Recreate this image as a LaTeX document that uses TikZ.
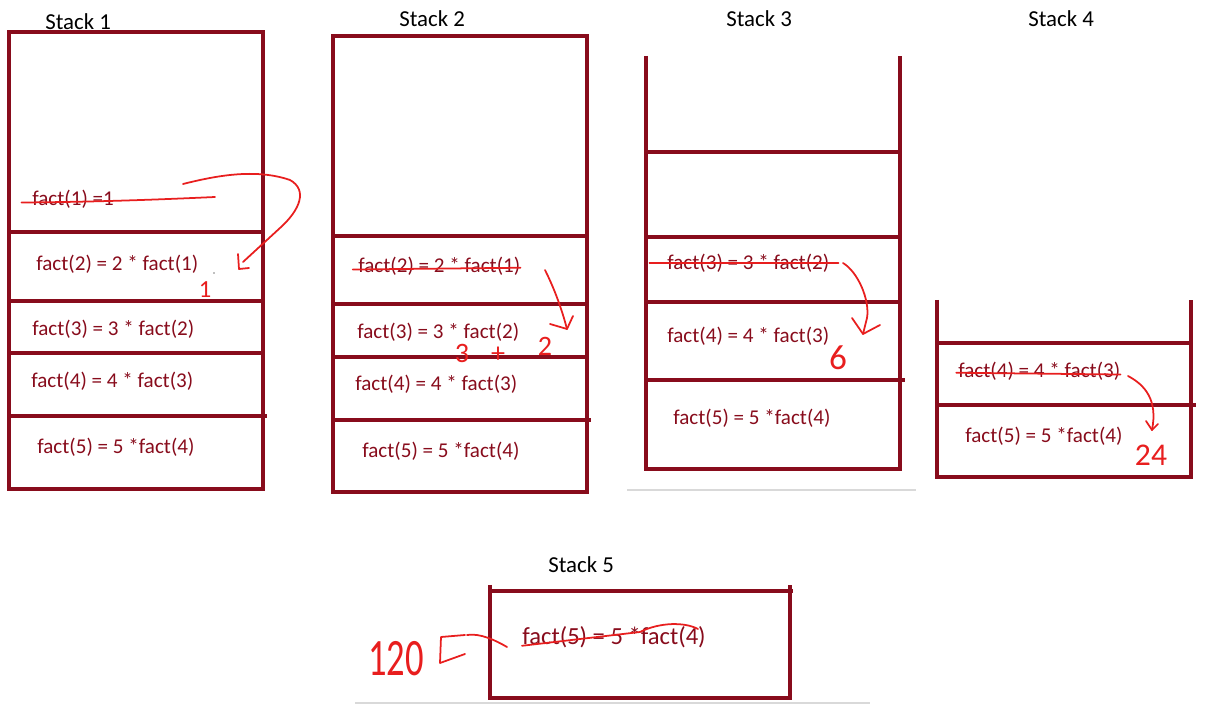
\documentclass[tikz,border=0pt]{standalone}
\usepackage{fontspec}
\setmainfont{Carlito}
\usepackage{xcolor}
\usepackage{tikz}

\definecolor{maroon}{RGB}{136,12,28}
\definecolor{pen}{RGB}{232,30,30}

\begin{document}
\begin{tikzpicture}[x=0.02cm, y=-0.02cm,
	wall/.style={maroon, line width=1.9pt},
	entry/.style={text=maroon, anchor=west, inner sep=0pt, font=\fontsize{12}{14}\selectfont},
	stacklabel/.style={anchor=west, inner sep=0pt, font=\fontsize{13}{15}\selectfont},
	ink/.style={pen, line width=1pt, line cap=round, line join=round},
	hand/.style={text=pen, inner sep=0pt, font=\fontsize{16}{18}\selectfont}]
	
	\useasboundingbox (0,0) rectangle (1215,705);
	
	% Stack 1
	\node[stacklabel] (t1) at (45,22) {Stack 1};
	\draw[wall] (9,32) rectangle (263,489);
	\foreach \y in {232,301,353}
	\draw[wall] (9,\y) -- (263,\y);
	\draw[wall] (9,416) -- (267,416);
	\node[entry] (s1a) at (32,199) {fact(1) =1};
	\node[entry] (s1b) at (36,264) {fact(2) = 2 * fact(1)};
	\node[entry] (s1c) at (32,329) {fact(3) = 3 * fact(2)};
	\node[entry] (s1d) at (31,381) {fact(4) = 4 * fact(3)};
	\node[entry] (s1e) at (37,447) {fact(5) = 5 *fact(4)};
	
	% return of fact(1) into fact(2)
	\coordinate (r1) at (243,262);
	\draw[ink] ([xshift=-6, yshift=-2]s1a.west) .. controls (90,202) and (150,200) .. (215,197);
	\draw[ink] (183,184) .. controls (215,176) and (255,168) .. (290,180)
	.. controls (308,190) and (300,210) .. (280,228) -- (r1);
	\draw[ink] (238,254) -- (239,269) -- (249,268);
	\node[hand, font=\fontsize{14}{16}\selectfont] (v1) at (205,290) {1};
	\fill[gray] (214,273) circle (0.8);
	
	% Stack 2
	\node[stacklabel] (t2) at (399,19) {Stack 2};
	\draw[wall] (333,36) rectangle (587,492);
	\foreach \y in {236,304,357}
	\draw[wall] (333,\y) -- (587,\y);
	\draw[wall] (333,420) -- (591,420);
	\node[entry] (s2b) at (358,266) {fact(2) = 2 * fact(1)};
	\node[entry] (s2c) at (357,332) {fact(3) = 3 * fact(2)};
	\node[entry] (s2d) at (355,384) {fact(4) = 4 * fact(3)};
	\node[entry] (s2e) at (362,451) {fact(5) = 5 *fact(4)};
	
	% fact(1) done, 2 goes down
	\coordinate (r2) at (567,329);
	\draw[ink] ([xshift=-3, yshift=-2]s2b.west) -- ([yshift=-1]s2b.east);
	\draw[ink] (545,270) .. controls (555,290) and (562,310) .. (r2);
	\draw[ink] (550,324) -- (r2) -- (573,316);
	\node[hand] (v2a) at (462,353) {3};
	\node[hand] (v2b) at (498,355) {+};
	\node[hand] (v2c) at (545,346) {2};
	
	% Stack 3
	\node[stacklabel] (t3) at (726,19) {Stack 3};
	\draw[wall] (646,56) -- (646,469) -- (900,469) -- (900,56);
	\foreach \y in {152,237,302}
	\draw[wall] (646,\y) -- (900,\y);
	\draw[wall] (646,380) -- (905,380);
	\node[entry] (s3c) at (667,263) {fact(3) = 3 * fact(2)};
	\node[entry] (s3d) at (667,336) {fact(4) = 4 * fact(3)};
	\node[entry] (s3e) at (673,418) {fact(5) = 5 *fact(4)};
	\draw[gray!30, line width=0.8pt] (627,490) -- (916,490);
	
	% fact(2) done, 6 goes down
	\coordinate (r3) at (863,334);
	\draw[ink] ([xshift=-10]s3c.west) -- ([xshift=5]s3c.east);
	\draw[ink] (843,263) .. controls (858,272) and (870,300) .. (867,318) -- (r3);
	\draw[ink] (852,318) -- (r3) -- (880,325);
	\node[hand, font=\fontsize{20}{22}\selectfont] (v3) at (838,358) {6};
	
	% Stack 4
	\node[stacklabel] (t4) at (1028,19) {Stack 4};
	\draw[wall] (937,300) -- (937,477) -- (1191,477) -- (1191,300);
	\draw[wall] (937,343) -- (1191,343);
	\draw[wall] (937,405) -- (1196,405);
	\node[entry] (s4d) at (958,371) {fact(4) = 4 * fact(3)};
	\node[entry] (s4e) at (965,436) {fact(5) = 5 *fact(4)};
	
	% fact(3) done, 24 goes down
	\coordinate (r4) at (1152,430);
	\draw[ink] ([xshift=-1, yshift=-1]s4d.west) -- ([yshift=-2]s4d.east);
	\draw[ink] (1128,376) .. controls (1145,385) and (1158,400) .. (r4);
	\draw[ink] (1146,421) -- (r4) -- (1158,424);
	\node[hand, font=\fontsize{18}{20}\selectfont] (v4) at (1151,455) {24};
	
	% Stack 5
	\node[stacklabel] (t5) at (548,565) {Stack 5};
	\draw[wall] (490,585) -- (490,698) -- (790,698) -- (790,585);
	\draw[wall] (490,591) -- (793,591);
	\node[entry, font=\fontsize{14}{16}\selectfont] (s5e) at (522,637) {fact(5) = 5 *fact(4)};
	\draw[gray!30, line width=0.8pt] (355,703) -- (870,703);
	
	% fact(4) done, result is 120
	\coordinate (r5) at (467,635);
	\draw[ink] ([yshift=-5]s5e.west) -- (640,632) .. controls (660,622) and (685,622) .. (698,629);
	\draw[ink] (507,647) .. controls (495,640) and (480,633) .. (r5);
	\draw[ink] (465,635) -- (441,637) -- (440,663) -- (465,654);
	\node[hand, font=\fontsize{26}{28}\selectfont] (v5) at (396,659) {\scalebox{0.8}[1.15]{120}};
	
\end{tikzpicture}
\end{document}
